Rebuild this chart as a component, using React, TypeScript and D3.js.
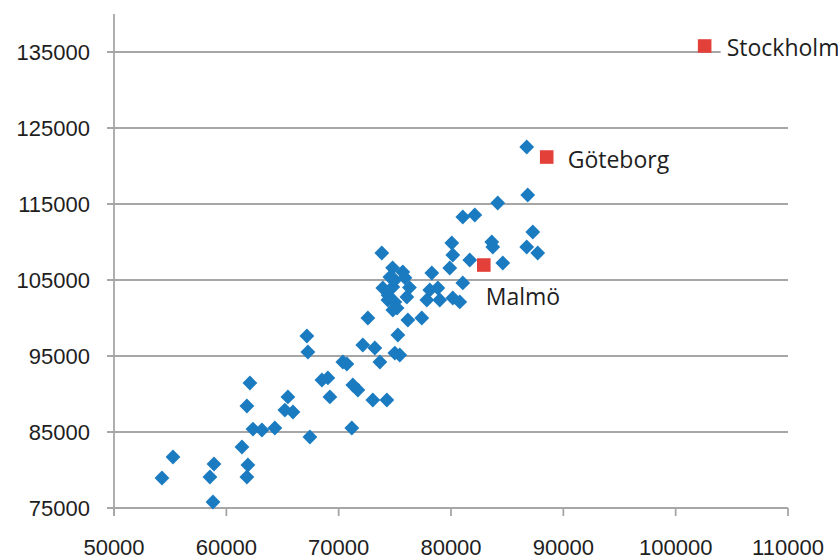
import React from "react";
import * as d3 from "d3";

const W = 838;
const H = 559;

const xTicks = [50000, 60000, 70000, 80000, 90000, 100000, 110000];
const yTicks = [75000, 85000, 95000, 105000, 115000, 125000, 135000];

// Municipalities (blue diamonds): [x, y]
const municipalitiesX = [
  54270, 55250, 58540, 58900, 58810, 61390, 61830, 62100, 61920, 61830,
  62370, 63170, 64320, 65210, 65930, 65480, 67170, 67260, 67440, 68510,
  69040, 69220, 70370, 70730, 71260, 71710, 71170, 72150, 73220, 72600,
  73040, 74290, 73670, 73840, 75270, 76160, 77400, 75000, 75440, 73930,
  74560, 74820, 74380, 74820, 75710, 76070, 75000, 78110, 78830, 77850,
  79000, 80160, 80780, 81050, 78290, 79890, 80160, 80070, 81670, 83630,
  83720, 81050, 82120, 84160, 86830, 86740, 87280, 86740, 87720, 84610,
  74800, 75900, 76300, 74400, 75000, 75200,
];
const municipalitiesY = [
  78950, 81710, 79080, 80790, 75790, 83030, 88420, 91450, 80660, 79080,
  85390, 85260, 85530, 87890, 87630, 89610, 97630, 95530, 84340, 91840,
  92110, 89610, 94210, 93950, 91180, 90530, 85530, 96450, 96050, 100000,
  89210, 89210, 94210, 108550, 97760, 99740, 100000, 95390, 95130, 103950,
  105390, 104080, 102370, 101050, 106050, 102760, 105000, 103680, 103950, 102370,
  102370, 102630, 102110, 104610, 105920, 106580, 108290, 109870, 107630, 110000,
  109340, 113290, 113550, 115130, 116180, 122500, 111320, 109340, 108550, 107240,
  106600, 105300, 104000, 103000, 102100, 101300,
];

// Big cities (red squares)
const cityNames = ["Stockholm", "Göteborg", "Malmö"];
const cityX = [102580, 88520, 82920];
const cityY = [135790, 121180, 106970];

const BLUE = "#1b7bc1";
const RED = "#e3403a";
const GRID = "#a6a6a6";

export default function App() {
  const x = d3.scaleLinear().domain([50000, 110000]).range([114, 788]);
  const y = d3.scaleLinear().domain([75000, 135000]).range([508, 52]);
  const yTop = y(140000);

  const diamond = d3.symbol().type(d3.symbolDiamond2).size(140)();
  const square = d3.symbol().type(d3.symbolSquare2).size(235)();

  const labelOffsets: Record<string, [number, number, string]> = {
    Stockholm: [22, 10, "start"],
    "Göteborg": [21, 11, "start"],
    "Malmö": [2, 40, "start"],
  };

  return (
    <svg
      width={W}
      height={H}
      style={{ position: "absolute", left: 0, top: 0, background: "#fff" }}
    >
      {/* grid lines */}
      {yTicks.map((t) => (
        <line
          key={"g" + t}
          x1={107}
          x2={788}
          y1={y(t)}
          y2={y(t)}
          stroke={GRID}
          strokeWidth={1.8}
        />
      ))}
      {/* y axis */}
      <line x1={114} x2={114} y1={yTop} y2={y(75000) + 8} stroke={GRID} strokeWidth={1.8} />
      {/* x ticks */}
      {xTicks.map((t) => (
        <line
          key={"xt" + t}
          x1={x(t)}
          x2={x(t)}
          y1={y(75000)}
          y2={y(75000) + 8}
          stroke={GRID}
          strokeWidth={1.8}
        />
      ))}
      {/* y tick labels */}
      {yTicks.map((t) => (
        <text
          key={"yl" + t}
          x={90}
          y={y(t)}
          dy="0.36em"
          textAnchor="end"
          fontFamily="Liberation Sans, Arial, sans-serif"
          fontSize={22}
          fill="#1e1e1e"
        >
          {t}
        </text>
      ))}
      {/* x tick labels */}
      {xTicks.map((t) => (
        <text
          key={"xl" + t}
          x={x(t)}
          y={555}
          textAnchor="middle"
          fontFamily="Liberation Sans, Arial, sans-serif"
          fontSize={22}
          fill="#1e1e1e"
        >
          {t}
        </text>
      ))}
      {/* municipalities */}
      {municipalitiesX.map((mx, i) => (
        <path
          key={"m" + i}
          d={diamond || ""}
          transform={`translate(${x(mx)},${y(municipalitiesY[i])})`}
          fill={BLUE}
        />
      ))}
      {/* cities */}
      {cityNames.map((name, i) => {
        const cx = x(cityX[i]);
        const cy = y(cityY[i]);
        const [dx, dy, anchor] = labelOffsets[name];
        return (
          <g key={name}>
            {name === "Stockholm" && (
              <rect x={cx + dx - 6} y={cy + dy - 20} width={130} height={26} fill="#fff" />
            )}
            <path d={square || ""} transform={`translate(${cx},${cy})`} fill={RED} />
            <text
              x={cx + dx}
              y={cy + dy}
              textAnchor={anchor}
              fontFamily="Open Sans, Noto Sans, sans-serif"
              fontSize={23}
              fill="#1e1e1e"
            >
              {name}
            </text>
          </g>
        );
      })}
    </svg>
  );
}
